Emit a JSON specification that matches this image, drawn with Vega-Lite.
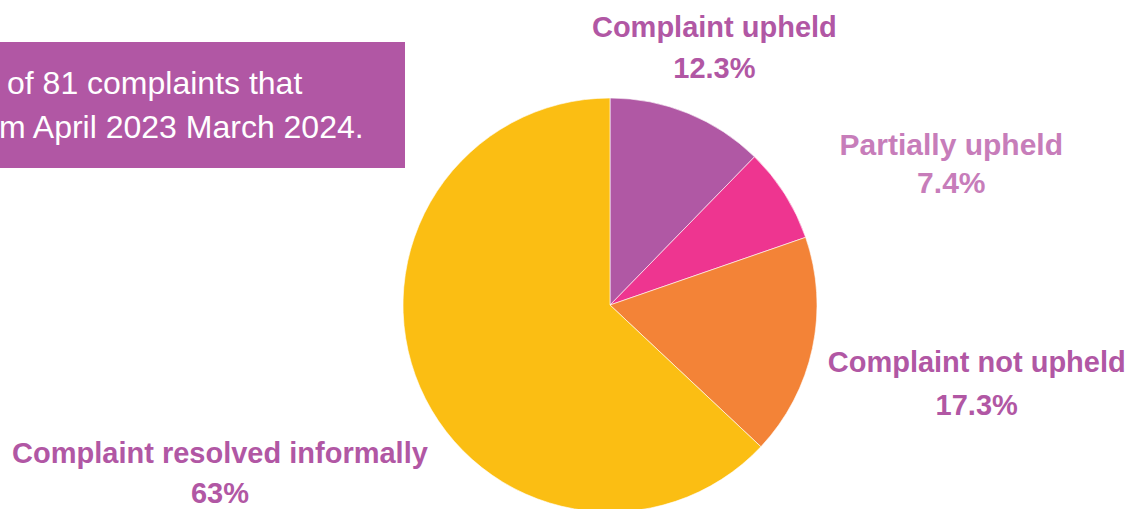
{
  "$schema": "https://vega.github.io/schema/vega-lite/v6.json",
  "width": 1134,
  "height": 509,
  "autosize": {"type": "none"},
  "padding": 0,
  "background": "white",
  "view": {"stroke": null},
  "config": {"font": "Liberation Sans"},
  "datasets": {
    "slices": [
      {"idx": 1, "category": "Complaint upheld", "pct": 12.3, "label": "Complaint upheld\n12.3%"},
      {"idx": 2, "category": "Partially upheld", "pct": 7.4, "label": "Partially upheld\n7.4%"},
      {"idx": 3, "category": "Complaint not upheld", "pct": 17.3, "label": "Complaint not upheld\n17.3%"},
      {"idx": 4, "category": "Complaint resolved informally", "pct": 63, "label": "Complaint resolved informally\n63%"}
    ],
    "note": [
      {"line1": "of 81 complaints that", "line2": "m April 2023 March 2024."}
    ]
  },
  "layer": [
    {
      "data": {"name": "note"},
      "mark": {"type": "rect", "x": 0, "x2": 405, "y": 42, "y2": 168, "color": "#B157A4"},
      "encoding": {}
    },
    {
      "data": {"name": "note"},
      "mark": {"type": "text", "x": 7, "y": 94, "align": "left", "baseline": "alphabetic", "fontSize": 32, "color": "white"},
      "encoding": {"text": {"field": "line1"}}
    },
    {
      "data": {"name": "note"},
      "mark": {"type": "text", "x": -1, "y": 138, "align": "left", "baseline": "alphabetic", "fontSize": 32, "color": "white"},
      "encoding": {"text": {"field": "line2"}}
    },
    {
      "data": {"name": "slices"},
      "layer": [
        {
          "mark": {"type": "arc", "x": 610, "y": 305, "outerRadius": 207, "stroke": "#ffffff", "strokeWidth": 0.6},
          "encoding": {
            "theta": {"field": "pct", "type": "quantitative", "stack": true},
            "order": {"field": "idx", "type": "quantitative"},
            "color": {
              "field": "category", "type": "nominal", "legend": null,
              "scale": {
                "domain": ["Complaint upheld", "Partially upheld", "Complaint not upheld", "Complaint resolved informally"],
                "range": ["#B058A4", "#EE3590", "#F38337", "#FBBE13"]
              }
            }
          }
        },
        {
          "mark": {"type": "text", "x": 610, "y": 305, "radius": 277, "dy": -20, "align": "center", "baseline": "middle", "fontSize": 29, "fontWeight": "bold", "lineHeight": 41, "lineBreak": "\n", "color": "#B157A4"},
          "encoding": {
            "theta": {"field": "pct", "type": "quantitative", "stack": true},
            "order": {"field": "idx", "type": "quantitative"},
            "text": {"condition": {"test": "datum.idx == 1", "field": "label"}, "value": ""}
          }
        },
        {
          "mark": {"type": "text", "x": 610, "y": 305, "radius": 300, "dx": 88, "dy": 2, "align": "center", "baseline": "middle", "fontSize": 30, "fontWeight": "bold", "lineHeight": 38, "lineBreak": "\n", "color": "#C77DBA"},
          "encoding": {
            "theta": {"field": "pct", "type": "quantitative", "stack": true},
            "order": {"field": "idx", "type": "quantitative"},
            "text": {"condition": {"test": "datum.idx == 2", "field": "label"}, "value": ""}
          }
        },
        {
          "mark": {"type": "text", "x": 610, "y": 305, "radius": 375, "dy": -20, "align": "center", "baseline": "middle", "fontSize": 29, "fontWeight": "bold", "lineHeight": 43, "lineBreak": "\n", "color": "#B157A4"},
          "encoding": {
            "theta": {"field": "pct", "type": "quantitative", "stack": true},
            "order": {"field": "idx", "type": "quantitative"},
            "text": {"condition": {"test": "datum.idx == 3", "field": "label"}, "value": ""}
          }
        },
        {
          "mark": {"type": "text", "x": 610, "y": 305, "radius": 425, "dy": -20, "align": "center", "baseline": "middle", "fontSize": 29, "fontWeight": "bold", "lineHeight": 40, "lineBreak": "\n", "color": "#B157A4"},
          "encoding": {
            "theta": {"field": "pct", "type": "quantitative", "stack": true},
            "order": {"field": "idx", "type": "quantitative"},
            "text": {"condition": {"test": "datum.idx == 4", "field": "label"}, "value": ""}
          }
        }
      ]
    }
  ]
}
